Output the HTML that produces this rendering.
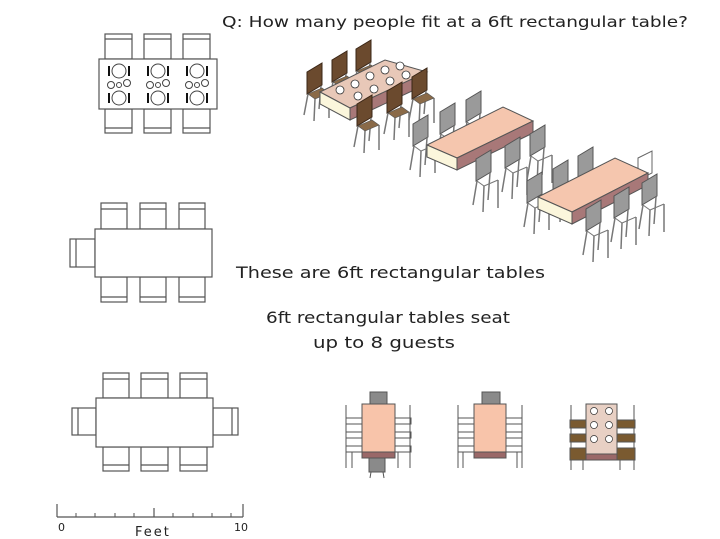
<!DOCTYPE html>
<html><head><meta charset="utf-8"><style>
html,body{margin:0;padding:0;background:#fff;width:720px;height:539px;overflow:hidden}
svg{display:block}
text{font-family:"DejaVu Sans","Liberation Sans",sans-serif;fill:#222}
</style></head><body>
<svg width="720" height="539" viewBox="0 0 720 539" xmlns="http://www.w3.org/2000/svg">
<defs>
<g id="ch">
 <polygon points="0,9 15,0 15,22 0,31" fill="#9a9a9a" stroke="#555" stroke-width="1"/>
 <line x1="1" y1="31" x2="-3" y2="55" stroke="#777" stroke-width="1.5"/>
 <line x1="14" y1="23" x2="12" y2="50" stroke="#777" stroke-width="1.5"/>
 <line x1="22" y1="30" x2="22" y2="58" stroke="#777" stroke-width="1.5"/>
 <line x1="8" y1="36" x2="7" y2="62" stroke="#777" stroke-width="1.5"/>
 <polyline points="1,31 8,36 22,30" fill="none" stroke="#777" stroke-width="1"/>
</g>
<g id="chd">
 <polygon points="0,9 15,0 15,22 0,31" fill="#6b4a2e" stroke="#3a2616" stroke-width="1"/>
 <line x1="1" y1="31" x2="-3" y2="52" stroke="#777" stroke-width="1.5"/>
 <line x1="14" y1="23" x2="12" y2="46" stroke="#777" stroke-width="1.5"/>
 <line x1="22" y1="30" x2="22" y2="55" stroke="#777" stroke-width="1.5"/>
 <line x1="8" y1="36" x2="7" y2="58" stroke="#777" stroke-width="1.5"/>
 <polygon points="1,31 8,36 22,30 15,25" fill="#8a6a48" stroke="#555" stroke-width="0.6"/>
</g>
</defs>

<g fill="none" stroke="#555" stroke-width="1.2">
 <rect x="105" y="34" width="27" height="25"/><line x1="105" y1="39" x2="132" y2="39"/>
 <rect x="144" y="34" width="27" height="25"/><line x1="144" y1="39" x2="171" y2="39"/>
 <rect x="183" y="34" width="27" height="25"/><line x1="183" y1="39" x2="210" y2="39"/>
 <rect x="105" y="109" width="27" height="24"/><line x1="105" y1="128" x2="132" y2="128"/>
 <rect x="144" y="109" width="27" height="24"/><line x1="144" y1="128" x2="171" y2="128"/>
 <rect x="183" y="109" width="27" height="24"/><line x1="183" y1="128" x2="210" y2="128"/>
 <rect x="99" y="59" width="118" height="50" fill="#fff"/>
 <g stroke="#444" stroke-width="1">
  <circle cx="119" cy="71" r="7"/><circle cx="119" cy="98" r="7"/><circle cx="111" cy="85" r="3.5"/><circle cx="127" cy="83" r="3.5"/><circle cx="119" cy="85" r="2.5"/>
  <circle cx="158" cy="71" r="7"/><circle cx="158" cy="98" r="7"/><circle cx="150" cy="85" r="3.5"/><circle cx="166" cy="83" r="3.5"/><circle cx="158" cy="85" r="2.5"/>
  <circle cx="197" cy="71" r="7"/><circle cx="197" cy="98" r="7"/><circle cx="189" cy="85" r="3.5"/><circle cx="205" cy="83" r="3.5"/><circle cx="197" cy="85" r="2.5"/>
 </g>
 <g stroke="#111" stroke-width="2">
  <line x1="109" y1="66" x2="109" y2="76"/><line x1="129" y1="66" x2="129" y2="76"/><line x1="109" y1="93" x2="109" y2="103"/><line x1="129" y1="93" x2="129" y2="103"/>
  <line x1="148" y1="66" x2="148" y2="76"/><line x1="168" y1="66" x2="168" y2="76"/><line x1="148" y1="93" x2="148" y2="103"/><line x1="168" y1="93" x2="168" y2="103"/>
  <line x1="187" y1="66" x2="187" y2="76"/><line x1="207" y1="66" x2="207" y2="76"/><line x1="187" y1="93" x2="187" y2="103"/><line x1="207" y1="93" x2="207" y2="103"/>
 </g>

 <rect x="101" y="203" width="26" height="26"/><line x1="101" y1="209" x2="127" y2="209"/>
 <rect x="140" y="203" width="26" height="26"/><line x1="140" y1="209" x2="166" y2="209"/>
 <rect x="179" y="203" width="26" height="26"/><line x1="179" y1="209" x2="205" y2="209"/>
 <rect x="101" y="277" width="26" height="25"/><line x1="101" y1="297" x2="127" y2="297"/>
 <rect x="140" y="277" width="26" height="25"/><line x1="140" y1="297" x2="166" y2="297"/>
 <rect x="179" y="277" width="26" height="25"/><line x1="179" y1="297" x2="205" y2="297"/>
 <rect x="70" y="239" width="25" height="28"/><line x1="76" y1="239" x2="76" y2="267"/>
 <rect x="95" y="229" width="117" height="48" fill="#fff"/>

 <rect x="103" y="373" width="26" height="25"/><line x1="103" y1="379" x2="129" y2="379"/>
 <rect x="141" y="373" width="27" height="25"/><line x1="141" y1="379" x2="168" y2="379"/>
 <rect x="180" y="373" width="27" height="25"/><line x1="180" y1="379" x2="207" y2="379"/>
 <rect x="103" y="447" width="26" height="24"/><line x1="103" y1="465" x2="129" y2="465"/>
 <rect x="141" y="447" width="27" height="24"/><line x1="141" y1="465" x2="168" y2="465"/>
 <rect x="180" y="447" width="27" height="24"/><line x1="180" y1="465" x2="207" y2="465"/>
 <rect x="72" y="408" width="24" height="27"/><line x1="78" y1="408" x2="78" y2="435"/>
 <rect x="213" y="408" width="25" height="27"/><line x1="232" y1="408" x2="232" y2="435"/>
 <rect x="96" y="398" width="117" height="49" fill="#fff"/>

 <line x1="57" y1="517" x2="243" y2="517"/>
 <line x1="57" y1="504" x2="57" y2="517"/>
 <line x1="243" y1="504" x2="243" y2="517"/>
 <line x1="154" y1="508" x2="154" y2="517"/>
 <g stroke-width="1"><line x1="76" y1="513" x2="76" y2="517"/><line x1="95" y1="513" x2="95" y2="517"/><line x1="115" y1="513" x2="115" y2="517"/><line x1="134" y1="513" x2="134" y2="517"/><line x1="173" y1="513" x2="173" y2="517"/><line x1="193" y1="513" x2="193" y2="517"/><line x1="212" y1="513" x2="212" y2="517"/><line x1="231" y1="513" x2="231" y2="517"/></g>
</g>
<text x="58" y="531" font-size="11" fill="#444">0</text>
<text x="234" y="531" font-size="11" fill="#444">10</text>
<text x="135" y="536" font-size="13" fill="#444" letter-spacing="2">Feet</text>

<use href="#chd" x="307" y="63"/>
<use href="#chd" x="332" y="51"/>
<use href="#chd" x="356" y="40"/>
<polygon points="320,92 385,60 427,72 350,108" fill="#e8c8b8" stroke="#555"/>
<polygon points="320,92 350,108 350,120 320,104" fill="#fbf6dc" stroke="#555"/>
<polygon points="350,108 427,72 427,84 350,120" fill="#a87878" stroke="#555"/>
<g fill="#fff" stroke="#333" stroke-width="0.8">
 <circle cx="340" cy="90" r="4"/><circle cx="355" cy="84" r="4"/><circle cx="370" cy="76" r="4"/><circle cx="385" cy="70" r="4"/><circle cx="400" cy="66" r="4"/>
 <circle cx="358" cy="96" r="4"/><circle cx="374" cy="89" r="4"/><circle cx="390" cy="81" r="4"/><circle cx="406" cy="75" r="4"/>
</g>
<use href="#chd" x="357" y="95"/>
<use href="#chd" x="387" y="82"/>
<use href="#chd" x="412" y="68"/>

<use href="#ch" x="413" y="115"/>
<use href="#ch" x="440" y="103"/>
<use href="#ch" x="466" y="91"/>
<polygon points="427,145 503,107 533,121 457,158" fill="#f5c6ae" stroke="#555"/>
<polygon points="427,145 457,158 457,170 427,157" fill="#fbf6dc" stroke="#555"/>
<polygon points="457,158 533,121 533,133 457,170" fill="#a87878" stroke="#555"/>
<use href="#ch" x="476" y="150"/>
<use href="#ch" x="505" y="137"/>
<use href="#ch" x="530" y="125"/>

<use href="#ch" x="527" y="172"/>
<use href="#ch" x="553" y="160"/>
<use href="#ch" x="578" y="147"/>
<polygon points="638,158 652,151 652,173 638,180" fill="#fff" stroke="#666"/>
<polygon points="538,197 615,158 648,173 572,212" fill="#f5c6ae" stroke="#555"/>
<polygon points="538,197 572,212 572,224 538,209" fill="#fbf6dc" stroke="#555"/>
<polygon points="572,212 648,173 648,185 572,224" fill="#a87878" stroke="#555"/>
<use href="#ch" x="586" y="200"/>
<use href="#ch" x="614" y="187"/>
<use href="#ch" x="642" y="174"/>

<g stroke="#555" stroke-width="1">
 <rect x="370" y="392" width="17" height="12" fill="#8a8a8a"/>
 <rect x="369" y="458" width="16" height="14" fill="#8a8a8a"/>
 <line x1="371" y1="472" x2="370" y2="478"/><line x1="383" y1="472" x2="384" y2="478"/>
 <g fill="#fff">
  <rect x="346" y="418" width="16" height="6"/><rect x="346" y="432" width="16" height="6"/><rect x="346" y="446" width="16" height="6"/>
  <rect x="395" y="418" width="16" height="6"/><rect x="395" y="432" width="16" height="6"/><rect x="395" y="446" width="16" height="6"/>
 </g>
 <line x1="346" y1="405" x2="346" y2="468"/><line x1="410" y1="405" x2="410" y2="468"/>
 <line x1="352" y1="452" x2="352" y2="468"/><line x1="398" y1="452" x2="398" y2="468"/>
 <rect x="362" y="404" width="33" height="48" fill="#f8c4aa"/>
 <rect x="362" y="452" width="33" height="6" fill="#9a6868"/>
 <rect x="482" y="392" width="18" height="12" fill="#8a8a8a"/>
 <g fill="#fff">
  <rect x="458" y="418" width="16" height="6"/><rect x="458" y="432" width="16" height="6"/><rect x="458" y="446" width="16" height="6"/>
  <rect x="506" y="418" width="16" height="6"/><rect x="506" y="432" width="16" height="6"/><rect x="506" y="446" width="16" height="6"/>
 </g>
 <line x1="458" y1="405" x2="458" y2="468"/><line x1="522" y1="405" x2="522" y2="468"/>
 <line x1="463" y1="452" x2="463" y2="468"/><line x1="517" y1="452" x2="517" y2="468"/>
 <rect x="474" y="404" width="32" height="48" fill="#f8c4aa"/>
 <rect x="474" y="452" width="32" height="6" fill="#9a6868"/>
 <line x1="571" y1="405" x2="571" y2="470"/><line x1="634" y1="405" x2="634" y2="470"/>
 <line x1="583" y1="460" x2="583" y2="470"/><line x1="620" y1="460" x2="620" y2="470"/>
 <rect x="570" y="420" width="65" height="8" fill="#7a5a30"/>
 <rect x="570" y="434" width="65" height="8" fill="#7a5a30"/>
 <rect x="570" y="448" width="65" height="12" fill="#7a5a30"/>
 <rect x="586" y="404" width="31" height="50" fill="#e8d0c4"/>
 <g fill="#fff" stroke="#333" stroke-width="0.7">
  <circle cx="594" cy="411" r="3.5"/><circle cx="609" cy="411" r="3.5"/>
  <circle cx="594" cy="425" r="3.5"/><circle cx="609" cy="425" r="3.5"/>
  <circle cx="594" cy="439" r="3.5"/><circle cx="609" cy="439" r="3.5"/>
 </g>
 <rect x="586" y="454" width="31" height="6" fill="#9a6868"/>
</g>

<text x="222" y="27" font-size="15" textLength="466" lengthAdjust="spacingAndGlyphs">Q: How many people fit at a 6ft rectangular table?</text>
<text x="236" y="278" font-size="16" textLength="309" lengthAdjust="spacingAndGlyphs">These are 6ft rectangular tables</text>
<text x="266" y="323" font-size="16" textLength="244" lengthAdjust="spacingAndGlyphs">6ft rectangular tables seat</text>
<text x="313" y="348" font-size="16" textLength="142" lengthAdjust="spacingAndGlyphs">up to 8 guests</text>
</svg>
</body></html>
